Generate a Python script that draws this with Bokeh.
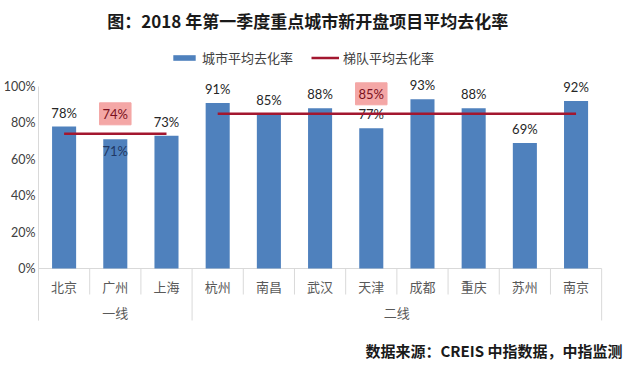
from bokeh.plotting import figure
from bokeh.models import (Range1d, FixedTicker, NumeralTickFormatter, Legend, LegendItem)
from bokeh.core.properties import value
from bokeh.embed import file_html
from bokeh.resources import INLINE

# ---------------- data ----------------
title_text = "图：2018 年第一季度重点城市新开盘项目平均去化率"
source_text = "数据来源：CREIS 中指数据，中指监测"
series_names = ["城市平均去化率", "梯队平均去化率"]
cities = ["北京", "广州", "上海", "杭州", "南昌", "武汉", "天津", "成都", "重庆", "苏州", "南京"]
rates = [0.78, 0.71, 0.73, 0.91, 0.85, 0.88, 0.77, 0.93, 0.88, 0.69, 0.92]
tiers = ["一线", "二线"]
tier_sizes = [3, 8]
tier_avg = [0.74, 0.85]
y_ticks = [0, 0.2, 0.4, 0.6, 0.8, 1.0]

# ---------------- style / layout ----------------
BAR = "#4F81BD"
LINE = "#A3172F"
GRAY = "#D9D9D9"
TXT = "#404040"
CJK = "Noto Sans CJK SC"
LAT = "Lato"

W, H = 624, 365
LEFT = 34                      # left border (y-axis labels)
frame_w, frame_h = W - LEFT, H
page_x0, page_y0 = 8 + LEFT, 1   # frame top-left as observed on the page
cat_px = (609.0 - page_x0) / 11  # pixels per category
px_per_unit = 182.0            # pixels per 100 %
zero_page_y = 269.0            # page y of 0 %

def X(page_x):
    return (page_x - page_x0) / cat_px

def Y(page_y):
    return (zero_page_y - page_y) / px_per_unit

n = len(cities)
xs = [i + 0.5 for i in range(n)]
y_top, y_bot = Y(page_y0), Y(page_y0 + frame_h)
axis_bottom = Y(321)

p = figure(width=W, height=H,
           x_range=Range1d(0, frame_w / cat_px), y_range=Range1d(y_bot, y_top),
           output_backend="svg", toolbar_location=None,
           min_border_left=LEFT, min_border_right=0, min_border_top=0, min_border_bottom=0,
           background_fill_color="white", border_fill_color="white")
p.outline_line_color = None
p.xgrid.visible = False
p.ygrid.visible = False
p.xaxis.visible = False

ya = p.yaxis[0]
ya.ticker = FixedTicker(ticks=y_ticks)
ya.formatter = NumeralTickFormatter(format="0%")
ya.bounds = (axis_bottom, 1.0)
ya.axis_line_color = GRAY
ya.major_tick_line_color = None
ya.minor_tick_line_color = None
ya.major_tick_out = 0
ya.major_tick_in = 0
ya.minor_tick_out = 0
ya.minor_tick_in = 0
ya.major_label_text_font = LAT
ya.major_label_text_font_size = "12.5px"
ya.major_label_text_color = TXT
ya.major_label_standoff = 3

# zero line
p.segment(x0=[0], y0=[0], x1=[n], y1=[0], line_color=GRAY, line_width=1)

# bars
bars = p.vbar(x=xs, top=rates, width=0.47, fill_color=BAR, line_color=None)

# category separators
bounds = [0]
for s in tier_sizes:
    bounds.append(bounds[-1] + s)
sx, sy0, sy1 = [], [], []
for b in range(n + 1):
    sx.append(b)
    sy0.append(0)
    sy1.append(axis_bottom if b in bounds else Y(295))
p.segment(x0=sx, y0=sy0, x1=sx, y1=sy1, line_color=GRAY, line_width=1)

# city labels
p.text(x=xs, y=[Y(287)] * n, text=cities, text_align="center", text_baseline="middle",
       text_font=value(CJK), text_font_size="13px", text_color="#595959")
# tier labels
tx = [(bounds[i] + bounds[i + 1]) / 2 for i in range(len(tiers))]
p.text(x=tx, y=[Y(313)] * len(tiers), text=tiers, text_align="center", text_baseline="middle",
       text_font=value(CJK), text_font_size="13px", text_color="#595959")

# value labels
inside = {"广州"}
lab = [f"{round(r*100)}%" for r in rates]
out_idx = [i for i, c in enumerate(cities) if c not in inside]
in_idx = [i for i, c in enumerate(cities) if c in inside]
p.text(x=[xs[i] for i in out_idx], y=[rates[i] for i in out_idx], text=[lab[i] for i in out_idx],
       y_offset=-6, text_align="center", text_baseline="bottom",
       text_font=value(LAT), text_font_size="13px", text_color="#262626")
p.text(x=[xs[i] for i in in_idx], y=[rates[i] for i in in_idx], text=[lab[i] for i in in_idx],
       y_offset=4, text_align="center", text_baseline="top",
       text_font=value(LAT), text_font_size="13px", text_color="#1F3864")

# tier average lines
lx0 = [bounds[i] + 0.5 for i in range(len(tiers))]
lx1 = [bounds[i + 1] - 0.5 for i in range(len(tiers))]
avg_line = p.segment(x0=lx0, y0=tier_avg, x1=lx1, y1=tier_avg, line_color=LINE, line_width=2.5)

# tier average labels (boxed)
bx = [(bounds[i] + bounds[i + 1] - 1) // 2 + 0.5 for i in range(len(tiers))]
p.text(x=bx, y=tier_avg, text=[f"{round(a*100)}%" for a in tier_avg], y_offset=-20,
       text_align="center", text_baseline="middle",
       text_font=value(LAT), text_font_size="13px", text_color="#7A1020",
       background_fill_color="#F4A7A6", border_line_color="#F4A7A6", padding=3)

# legend (inside the frame, above the 100 % level)
leg = Legend(items=[LegendItem(label=series_names[0], renderers=[bars]),
                    LegendItem(label=series_names[1], renderers=[avg_line])],
             orientation="horizontal",
             location=(175 - page_x0 - 1, (page_y0 + H) - 68),
             border_line_color=None, background_fill_alpha=0,
             glyph_width=28, glyph_height=7, label_standoff=4, spacing=18,
             padding=0, margin=0,
             label_text_font=CJK, label_text_font_size="13px", label_text_color=TXT)
p.add_layout(leg, "center")

# title
p.text(x=[X(313)], y=[Y(21)], text=[title_text], text_align="center", text_baseline="middle",
       text_font=value(CJK), text_font_size="17px", text_font_style="bold", text_color="#1a1a1a")

# source
p.text(x=[X(630)], y=[Y(351)], text=[source_text], text_align="right", text_baseline="middle",
       text_font=value(CJK), text_font_size="15px", text_font_style="bold", text_color="#1a1a1a")

open("out.html", "w").write(file_html(p, INLINE))
